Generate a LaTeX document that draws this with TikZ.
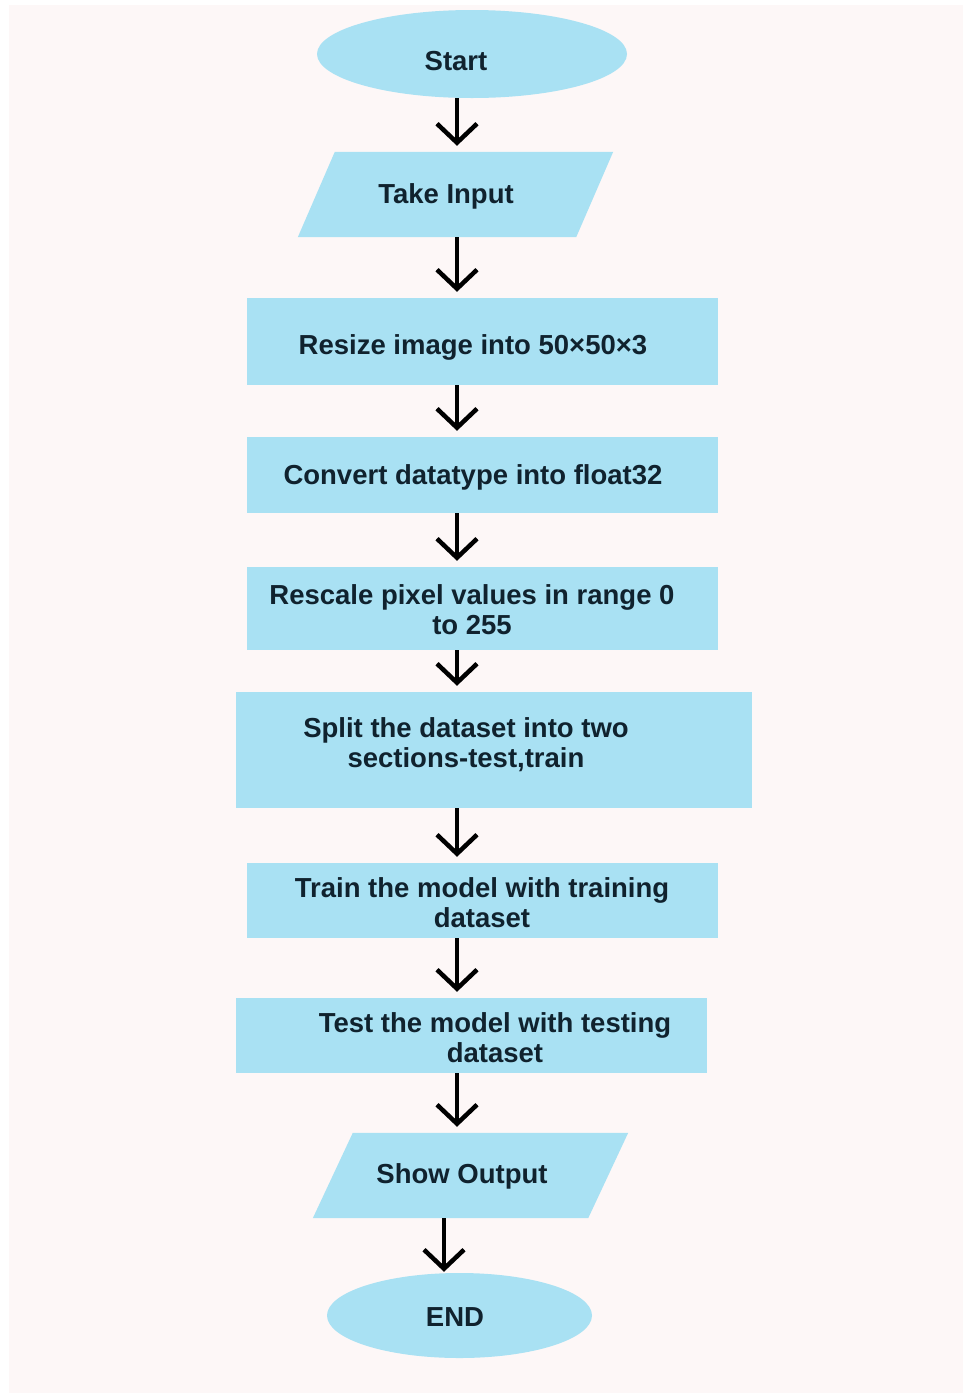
\documentclass[tikz,border=0pt]{standalone}
\usepackage{fontspec}
\setmainfont{Liberation Sans}
\usetikzlibrary{shapes.geometric,arrows.meta}
\definecolor{boxblue}{HTML}{A9E1F3}
\definecolor{paper}{HTML}{FDF7F7}
\definecolor{ink}{HTML}{10222E}
\tikzset{
    terminal/.style={ellipse, fill=boxblue, inner sep=0pt},
    io/.style={rectangle, inner sep=0pt},
    process/.style={rectangle, fill=boxblue, inner sep=0pt},
    txt/.style={text=ink, font=\bfseries\fontsize{27.5}{30}\selectfont, align=center, inner sep=0pt},
    flow/.style={-{Straight Barb[length=19pt,width=40pt]}, line width=4.5pt, shorten >=6pt}
}
% parallelogram filled over the box of a node, #2 = slant
\newcommand{\slantfill}[2]{
    \fill[boxblue] (#1.south west) -- ([xshift=-#2]#1.south east)
        -- (#1.north east) -- ([xshift=#2]#1.north west) -- cycle;
}

\begin{document}
\begin{tikzpicture}[x=1pt,y=-1pt]
    % Page and background
    \useasboundingbox (0,0) rectangle (963,1393);
    \fill[white] (0,0) rectangle (963,1393);
    \fill[paper] (9,5) rectangle (963,1393);

    % Shapes
    \node[terminal, minimum width=310pt, minimum height=88pt] (start) at (472,54) {};
    \node[io, minimum width=315pt, minimum height=85pt] (take) at (455.5,194.5) {};
    \slantfill{take}{37pt}
    \node[process, minimum width=471pt, minimum height=87pt] (resize) at (482.5,341.5) {};
    \node[process, minimum width=471pt, minimum height=76pt] (convert) at (482.5,475) {};
    \node[process, minimum width=471pt, minimum height=83pt] (rescale) at (482.5,608.5) {};
    \node[process, minimum width=516pt, minimum height=116pt] (split) at (494,750) {};
    \node[process, minimum width=471pt, minimum height=75pt] (train) at (482.5,900.5) {};
    \node[process, minimum width=471pt, minimum height=75pt] (test) at (471.5,1035.5) {};
    \node[io, minimum width=315pt, minimum height=85pt] (output) at (470.5,1175.5) {};
    \slantfill{output}{40pt}
    \node[terminal, minimum width=265pt, minimum height=85pt] (finish) at (459.5,1315.5) {};

    % Texts
    \node[txt] (startlbl) at (456,61) {Start};
    \node[txt] (takelbl) at (446,196) {Take Input};
    \node[txt] (resizelbl) at (473,347) {Resize image into 50×50×3};
    \node[txt] (convertlbl) at (473,477) {Convert datatype into float32};
    \node[txt] (rescalelbl) at (472,610) {Rescale pixel values in range 0\\to 255};
    \node[txt] (splitlbl) at (466,745) {Split the dataset into two\\sections-test,train};
    \node[txt] (trainlbl) at (482,903) {Train the model with training\\dataset};
    \node[txt] (testlbl) at (495,1038) {Test the model with testing\\dataset};
    \node[txt] (outputlbl) at (462,1176) {Show Output};
    \node[txt] (finishlbl) at (455,1317) {END};

    % Arrows
    \coordinate (axis) at (457,0);
    \coordinate (axisb) at (444,0);
    \foreach \a/\b in {start/take, take/resize, resize/convert, convert/rescale,
                       rescale/split, split/train, train/test, test/output} {
        \draw[flow] (\a.south -| axis) -- (\b.north -| axis);
    }
    \draw[flow, shorten >=1pt] (output.south -| axisb) -- (finish.north -| axisb);
\end{tikzpicture}
\end{document}
